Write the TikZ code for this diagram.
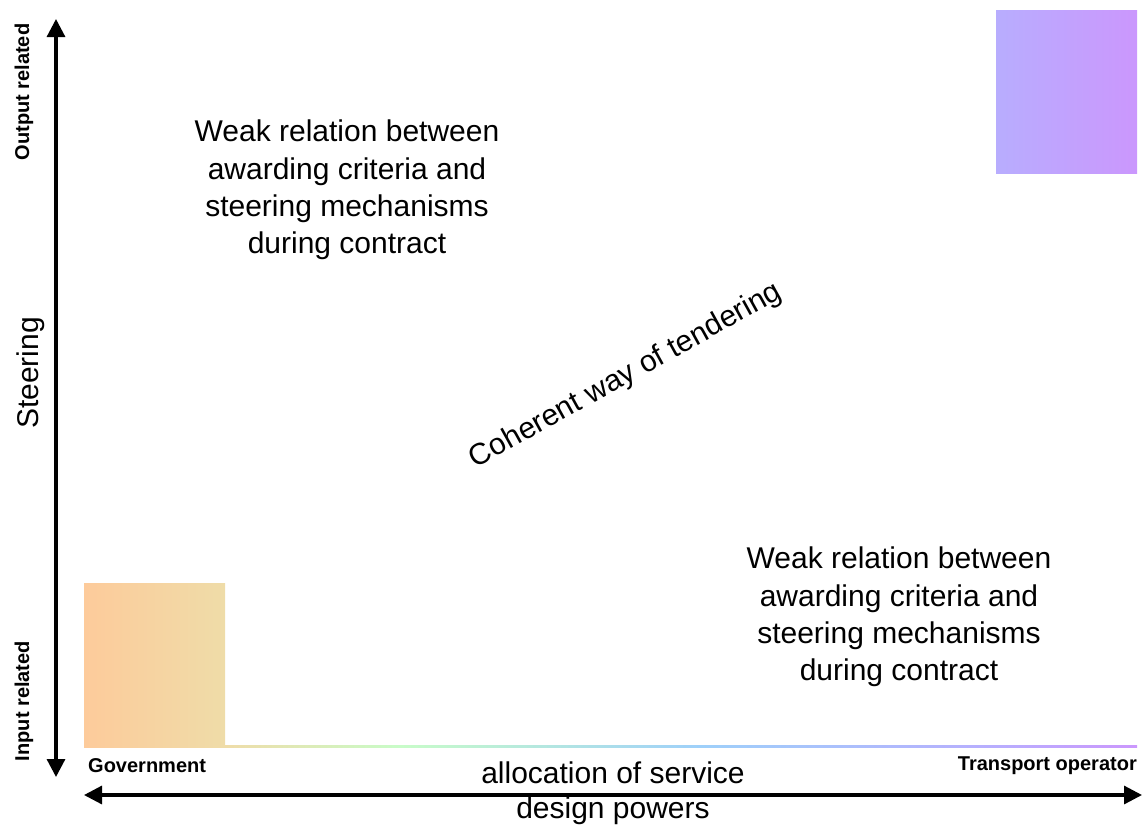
\documentclass[tikz,border=0pt]{standalone}
\usepackage{fontspec}
\setmainfont{Liberation Sans}
\usetikzlibrary{arrows.meta}
\definecolor{cOrange}{HTML}{FDCB9B}
\definecolor{cBeige}{HTML}{EFDCA8}
\definecolor{cGreen}{HTML}{C8FCC8}
\definecolor{cBlue}{HTML}{9ED0FA}
\definecolor{cLilac}{HTML}{B8ADFE}
\definecolor{cPurple}{HTML}{CB97FD}
\tikzset{
  bigtxt/.style={inner sep=0pt, align=center, font=\fontsize{30}{37.3}\selectfont},
  smalltxt/.style={inner sep=0pt, font=\fontsize{20}{24}\selectfont\bfseries},
  axisarrow/.style={line width=3.2pt, {Triangle[length=18pt,width=18pt]}-{Triangle[length=18pt,width=18pt]}},
}
\begin{document}
\begin{tikzpicture}[x=1pt,y=-1pt]
\useasboundingbox (0,0) rectangle (1145,827);
% gradient squares and bottom strip
\shade[left color=cOrange,right color=cBeige] (84,583) rectangle (225,747);
\shade[left color=cLilac,right color=cPurple] (996,10) rectangle (1137,173);
\shade[left color=cBeige,right color=cGreen] (225,745.5) rectangle (400,747);
\shade[left color=cGreen,right color=cBlue] (400,745.5) rectangle (700,747);
\shade[left color=cBlue,right color=cLilac] (700,745.5) rectangle (996,747);
\shade[left color=cLilac,right color=cPurple] (996,745.5) rectangle (1137,747);
% axes
\coordinate (vtop) at (56,19);
\coordinate (vbot) at (56,777);
\coordinate (hleft) at (84,795);
\coordinate (hright) at (1142,795);
\draw[axisarrow] (vbot) -- (vtop);
\draw[axisarrow] (hleft) -- (hright);
% texts
\node[bigtxt] (weak1) at (347,190) {Weak relation between\\awarding criteria and\\steering mechanisms\\during contract};
\node[bigtxt] (weak2) at (899,617) {Weak relation between\\awarding criteria and\\steering mechanisms\\during contract};
\node[bigtxt, rotate=29] (coh) at (626,376) {Coherent way of tendering};
\node[bigtxt, rotate=90] (steer) at (31,373) {Steering};
\node[smalltxt, rotate=90] (outp) at (24,92) {Output related};
\node[smalltxt, rotate=90] (inp) at (24,701) {Input related};
\node[smalltxt, anchor=west] (gov) at (88,766) {Government};
\node[smalltxt, anchor=east] (trans) at (1137,766) {Transport operator};
\node[bigtxt, font=\fontsize{30}{35}\selectfont] (alloc) at (613,793) {allocation of service\\design powers};
\end{tikzpicture}
\end{document}
